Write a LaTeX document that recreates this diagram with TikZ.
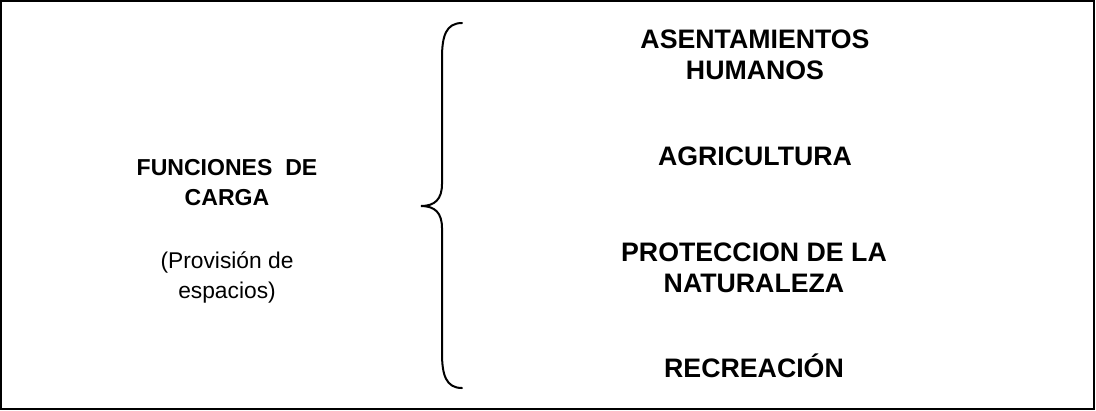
\documentclass[tikz,border=0pt]{standalone}
\usepackage{fontspec}
\setmainfont{Liberation Sans}
\usepackage{tikz}
\tikzset{
  mainlabel/.style = {align=center, inner sep=0pt, font=\fontsize{16.4}{21.3}\selectfont\bfseries},
  sublabel/.style = {align=center, inner sep=0pt, font=\fontsize{16.2}{21}\selectfont},
  usolabel/.style = {align=center, inner sep=0pt, font=\fontsize{19}{22.2}\selectfont\bfseries},
  frame/.style = {draw=black, line width=0.05cm},
  brace/.style = {draw=black, line width=0.05cm, line cap=round}
}
\begin{document}
\begin{tikzpicture}[x=0.025cm, y=-0.025cm]
    \useasboundingbox (0,0) rectangle (1096,410);
    \draw[frame] (1,1) rectangle (1093.5,408.5);
    \node[mainlabel] (carga) at (227,183) {FUNCIONES\ \ DE\\CARGA};
    \node[sublabel] (espacios) at (227,277.5) {(Provisión de\\espacios)};
    \node[usolabel] (asent) at (755,54.7) {ASENTAMIENTOS\\HUMANOS};
    \node[usolabel] (agri) at (755,156.2) {AGRICULTURA};
    \node[usolabel] (prot) at (754,268) {PROTECCION DE LA\\NATURALEZA};
    \node[usolabel, anchor=base] (recre) at (754,377.7) {RECREACIÓN};
    \coordinate (top) at (462,23);
    \coordinate (tip) at (421,206);
    \coordinate (bot) at (462,388);
    \draw[brace] (top) .. controls (446,23) and (442,36) .. (442,58) -- (442,184)
        .. controls (442,199) and (435,206) .. (tip)
        .. controls (435,206) and (442,213) .. (442,228) -- (442,353)
        .. controls (442,375) and (446,388) .. (bot);
\end{tikzpicture}
\end{document}
